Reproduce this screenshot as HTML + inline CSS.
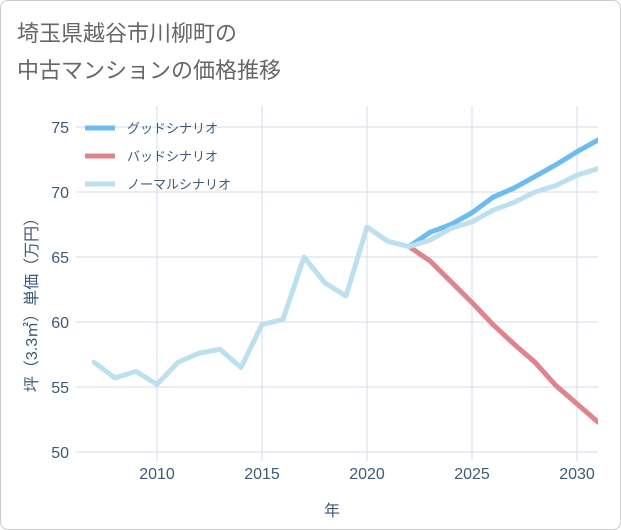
<!DOCTYPE html>
<html><head><meta charset="utf-8">
<style>
body{margin:0;background:#fff;font-family:"Liberation Sans","Noto Sans CJK JP",sans-serif;}
#wrap{position:relative;width:619px;height:528px;border:1px solid #ccc;border-radius:8px;overflow:hidden;background:#fff}
</style></head><body>
<div id="wrap">
<svg id="chart" width="619" height="528">
<defs><clipPath id="pc"><rect x="75" y="100" width="522" height="365"/></clipPath></defs>
<text x="16" y="40" font-size="22" fill="#666">埼玉県越谷市川柳町の</text>
<text x="16" y="77" font-size="22" fill="#666">中古マンションの価格推移</text>
<g id="grid"></g><g id="series" clip-path="url(#pc)"></g><g id="legend"></g>
<text x="331" y="515" font-size="16" fill="#3f5a75" text-anchor="middle">年</text>
<text transform="translate(36,300) rotate(-90)" font-size="16" fill="#3f5a75" text-anchor="middle">坪（3.3㎡）単価（万円）</text>
</svg></div>
<script>
const years=[2007,2008,2009,2010,2011,2012,2013,2014,2015,2016,2017,2018,2019,2020,2021,2022];
const normalHist=[56.9,55.7,56.2,55.2,56.9,57.6,57.9,56.5,59.8,60.2,65,63,62,67.3,66.2,65.8];
const futureYears=[2022,2023,2024,2025,2026,2027,2028,2029,2030,2031];
const goodVals=[65.8,66.9,67.5,68.4,69.6,70.3,71.2,72.1,73.1,74.0];
const badVals=[65.8,64.7,63.1,61.5,59.8,58.3,56.9,55.1,53.7,52.3];
const normalFut=[65.8,66.3,67.2,67.7,68.6,69.2,70.0,70.5,71.3,71.8];
const xTicks=[2010,2015,2020,2025,2030];
const yTicks=[50,55,60,65,70,75];
const legendLabels=["グッドシナリオ","バッドシナリオ","ノーマルシナリオ"];
const X=v=>156+(v-2010)*21, Y=v=>451-(v-50)*13;
const NS="http://www.w3.org/2000/svg";
function mk(t,a,p){const e=document.createElementNS(NS,t);for(const k in a)e.setAttribute(k,a[k]);p.appendChild(e);return e;}
const g=document.getElementById('grid'),s=document.getElementById('series'),lg=document.getElementById('legend');
xTicks.forEach(v=>{const l=mk('line',{x1:X(v),x2:X(v),y1:105,y2:460,stroke:'#d5dee8'},g);


const t=mk('text',{x:X(v),y:478,'font-size':16,fill:'#3f5a75','text-anchor':'middle'},g);t.textContent=v;

});
yTicks.forEach(v=>{const l=mk('line',{x1:75,x2:597,y1:Y(v),y2:Y(v),stroke:'#d5dee8'},g);


const t=mk('text',{x:68,y:Y(v)+6,'font-size':16,fill:'#3f5a75','text-anchor':'end'},g);t.textContent=v;

});
function path(xs,ys,c,name){const d=xs.map((x,i)=>(i?'L':'M')+X(x)+','+Y(ys[i])).join(' ');
const p=mk('path',{d:d,fill:'none',stroke:c,'stroke-width':5,'stroke-linejoin':'round','stroke-linecap':'round'},s);

}
path(futureYears,badVals,'#e0848c','bad-scenario-line');
path(futureYears,goodVals,'#6cbcf0','good-scenario-line');
path(years,normalHist,'#bde0ef','normal-history-line');
path(futureYears,normalFut,'#bde0ef','normal-scenario-line');
const cols=['#6cbcf0','#e0848c','#bde0ef'];
legendLabels.forEach((lab,i)=>{const y=127+i*28;
const l=mk('line',{x1:84,x2:114,y1:y,y2:y,stroke:cols[i],'stroke-width':5},lg);


const t=mk('text',{x:126,y:y+5,'font-size':13,fill:'#3f5a75'},lg);t.textContent=lab;

});
</script></body></html>
